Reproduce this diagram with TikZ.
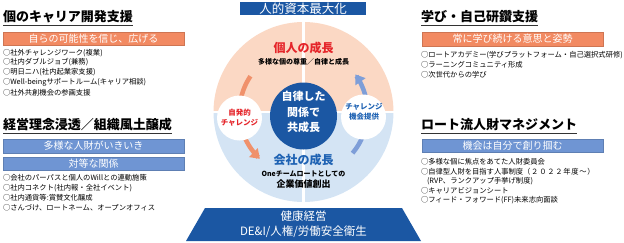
\documentclass[tikz,border=0pt]{standalone}
\usepackage{fontspec}
\setmainfont{Noto Sans CJK JP}
\usetikzlibrary{arrows.meta}
\definecolor{peach}{HTML}{FBD8C4}
\definecolor{lblue}{HTML}{D4E4F4}
\definecolor{dblue}{HTML}{1B57A3}
\definecolor{redt}{HTML}{E5252A}
\definecolor{bluet}{HTML}{1E62B3}
\definecolor{obar}{HTML}{F28A62}
\definecolor{bbar}{HTML}{6F95D3}
\definecolor{oarrow}{HTML}{F0916B}
\definecolor{barrow}{HTML}{7E9ED8}
\tikzset{
 every node/.style={inner sep=0pt, outer sep=0pt},
 sectitle/.style={anchor=west, font=\fontsize{13}{14}\selectfont\bfseries},
 uline/.style={line width=1pt, black!80},
 item/.style={anchor=west, font=\fontsize{7.3}{8}\selectfont},
 barbox/.style={anchor=north west, text=white, line width=0.5pt, minimum width=181pt, font=\fontsize{10}{11}\selectfont},
 obarbox/.style={barbox, fill=obar, draw=obar!85!black},
 bbarbox/.style={barbox, fill=bbar, draw=bbar!85!black},
 gap/.style={white, line width=2.5pt},
 arc arrow/.style={line width=4.5pt, -{Triangle[width=12pt,length=9pt]}, samples=40, variable=\t},
 smallcircle/.style={circle, fill=white, minimum size=45pt},
 smalltext/.style={align=center, font=\fontsize{7.5}{10}\selectfont\bfseries},
 bigtitle/.style={font=\fontsize{12}{14}\selectfont\bfseries},
 subtext/.style={font=\fontsize{7}{8}\selectfont\bfseries},
}
\begin{document}
\begin{tikzpicture}[x=1pt,y=-1pt]
\useasboundingbox (0,0) rectangle (624,242);

% ---------- left top ----------
\node[sectitle] (t1) at (3,17) {個のキャリア開発支援};
\draw[uline] (t1.west |- 0,25) -- (t1.east |- 0,25);
\node[obarbox, minimum height=13pt] (b1) at (3,32) {自らの可能性を信じ、広げる};
\node[item] (i11) at (3,53) {○社外チャレンジワーク(複業)};
\node[item] (i12) at (3,62.5) {○社内ダブルジョブ(兼務)};
\node[item] (i13) at (3,72.5) {○明日ニハ(社内起業家支援)};
\node[item] (i14) at (3,82.5) {○Well-beingサポートルーム(キャリア相談)};
\node[item] (i15) at (3,92.5) {○社外共創機会の参画支援};

% ---------- left bottom ----------
\node[sectitle] (t2) at (3,125) {経営理念浸透／組織風土醸成};
\draw[uline] (t2.west |- 0,133) -- (t2.east |- 0,133);
\node[bbarbox, minimum height=14pt] (b2) at (3,139) {多様な人財がいきいき};
\node[bbarbox, minimum height=13pt] (b3) at (3,157) {対等な関係};
\node[item] (i21) at (3,178) {○会社のパーパスと個人のWillとの連動施策};
\node[item] (i22) at (3,188) {○社内コネクト(社内報・全社イベント)};
\node[item] (i23) at (3,198) {○社内通貨等:賞賛文化醸成};
\node[item] (i24) at (3,208) {○さんづけ、ロートネーム、オープンオフィス};

% ---------- right top ----------
\node[sectitle] (t3) at (421,17) {学び・自己研鑽支援};
\draw[uline] (t3.west |- 0,25) -- (t3.east |- 0,25);
\node[obarbox, minimum height=14pt] (b4) at (422,32) {常に学び続ける意思と姿勢};
\node[item] (i31) at (421,55) {○ロートアカデミー(学びプラットフォーム・自己選択式研修)};
\node[item] (i32) at (421,65) {○ラーニングコミュニティ形成};
\node[item] (i33) at (421,75) {○次世代からの学び};

% ---------- right bottom ----------
\node[sectitle] (t4) at (421,125) {ロート流人財マネジメント};
\draw[uline] (t4.west |- 0,133) -- (t4.east |- 0,133);
\node[bbarbox, minimum height=13pt] (b5) at (422,139) {機会は自分で創り掴む};
\node[item] (i41) at (421,162) {○多様な個に焦点をあてた人財委員会};
\node[item] (i42) at (421,171.5) {○自律型人財を目指す人事制度{\addfontfeature{LetterSpace=10}（２０２２年度～）}};
\node[item] (i43) at (427,181) {(RVP、ランクアップ手挙げ制度)};
\node[item] (i44) at (421,190.5) {○キャリアビジョンシート};
\node[item] (i45) at (421,200) {○フィード・フォワード(FF)未来志向面談};

% ---------- centre ----------
\begin{scope}
\clip (200,0) rectangle (410,112);
\fill[peach] (303.5,112) circle[radius=90pt];
\end{scope}
\begin{scope}
\clip (200,112) rectangle (410,242);
\fill[lblue] (303.5,112) circle[radius=90pt];
\end{scope}
\draw[gap] (212,112) -- (395,112);
\draw[gap] (303.5,21) -- (303.5,203);

\node[fill=dblue, text=white, minimum width=126pt, minimum height=13.5pt, font=\fontsize{12.5}{13}\selectfont] (top) at (303,8.5) {人的資本最大化};

\draw[oarrow, arc arrow, domain=214:133] plot ({303.5+64*cos(\t)},{112+64*sin(\t)});
\draw[barrow, arc arrow, domain=40:-36] plot ({303.5+64*cos(\t)},{112+64*sin(\t)});

\node[smallcircle] (lc) at (239.5,118) {};
\node[smallcircle] (rc) at (363.5,117) {};
\node[smalltext, text=redt] (lt) at (239.5,118) {自発的\\チャレンジ};
\node[smalltext, text=bluet] (rt) at (364,112) {チャレンジ\\機会提供};

\node[circle, fill=dblue, minimum size=67pt] (cc) at (303.5,116) {};
\node[text=white, align=center, font=\fontsize{11}{15.5}\selectfont\bfseries] (ct) at (303.5,112) {自律した\\関係で\\共成長};

\node[bigtitle, text=redt] (p1) at (303.5,48) {個人の成長};
\node[subtext] (p2) at (303.5,62) {多様な個の尊重／自律と成長};
\node[bigtitle, text=bluet] (c1) at (303.5,160) {会社の成長};
\node[subtext] (c2) at (303.5,173.5) {Oneチームロートとしての};
\node[font=\fontsize{9}{10}\selectfont\bfseries] (c3) at (303.5,184) {企業価値創出};

% ---------- bottom ----------
\fill[dblue] (205,208) -- (402,208) -- (421,241) -- (186,241) -- cycle;
\node[text=white, font=\fontsize{11.5}{12}\selectfont] (h1) at (303.5,216.5) {健康経営};
\node[text=white, font=\fontsize{11.5}{13}\selectfont] (h2) at (303.5,232) {DE\&I/人権/労働安全衛生};
\end{tikzpicture}
\end{document}
